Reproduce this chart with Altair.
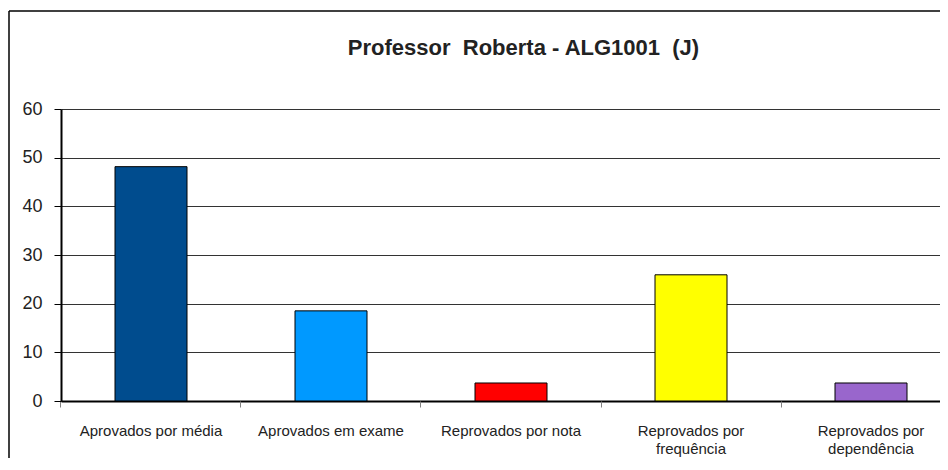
import altair as alt
import pandas as pd

categories = [
    "Aprovados por média",
    "Aprovados em exame",
    "Reprovados por nota",
    "Reprovados por frequência",
    "Reprovados por dependência",
]
values = [48.15, 18.52, 3.70, 25.93, 3.70]
colors = ["#004C8E", "#0099FF", "#FF0000", "#FFFF00", "#9966CC"]
y_ticks = [0, 10, 20, 30, 40, 50, 60]
title_text = "Professor\u00a0 Roberta - ALG1001\u00a0 (J)"

df = pd.DataFrame({"categoria": categories, "valor": values, "cor": colors})
one = pd.DataFrame({"k": [0]})

xscale = alt.Scale(domain=categories, range=[0, 900], paddingInner=0.6, paddingOuter=0.3)
yscale = alt.Scale(domain=[0, 60], nice=False)

label_expr = ("length(datum.label) > 20 ? "
              "[substring(datum.label, 0, 14), substring(datum.label, 15)] : datum.label")

frame_top = alt.Chart(one).mark_rule(stroke="black", strokeWidth=1.5).encode(
    x=alt.value(-52), x2=alt.value(1000), y=alt.value(-98)
)
frame_left = alt.Chart(one).mark_rule(stroke="black", strokeWidth=1.5).encode(
    x=alt.value(-52), y=alt.value(-98), y2=alt.value(700)
)

bars = alt.Chart(df).mark_bar(stroke="black", strokeWidth=1).encode(
    x=alt.X(
        "categoria:N", scale=xscale, sort=categories,
        axis=alt.Axis(
            title=None, orient="bottom", labelAngle=0, ticks=False, tickSize=0,
            labelPadding=22, labelFont="Liberation Sans", labelFontSize=15,
            labelColor="#222", labelExpr=label_expr, labelLineHeight=18,
            labelBaseline="top", domainColor="black", domainWidth=2, grid=False,
        ),
    ),
    y=alt.Y(
        "valor:Q", scale=yscale,
        axis=alt.Axis(
            title=None, values=y_ticks, grid=True, gridColor="#333333", gridWidth=1,
            domainColor="black", domainWidth=2, tickColor="black", tickSize=7,
            labelFont="Liberation Sans", labelFontSize=18, labelColor="#222",
            labelPadding=12,
        ),
    ),
    color=alt.Color("cor:N", scale=None),
)

tick_layer = alt.Chart(df).mark_point(opacity=0).encode(
    x=alt.X(
        "categoria:N", scale=xscale, sort=categories,
        axis=alt.Axis(
            title=None, orient="bottom", labels=False, domain=False, ticks=True,
            tickSize=6, tickColor="#808080", tickWidth=1, bandPosition=-0.75, grid=False,
        ),
    ),
)

chart = alt.layer(frame_top, frame_left, bars, tick_layer).resolve_axis(x="independent").properties(
    width=879,
    height=292,
    autosize=alt.AutoSizeParams(type="none"),
    padding={"left": 53, "top": 101, "right": 0, "bottom": 57},
    title=alt.TitleParams(
        title_text, font="Liberation Sans", fontSize=22, fontWeight="bold",
        color="#222", anchor="middle", dx=23, offset=-50,
    ),
).configure_view(stroke=None).configure(background="white")

chart.save("out.html", embed_options={"renderer": "svg", "actions": False})
